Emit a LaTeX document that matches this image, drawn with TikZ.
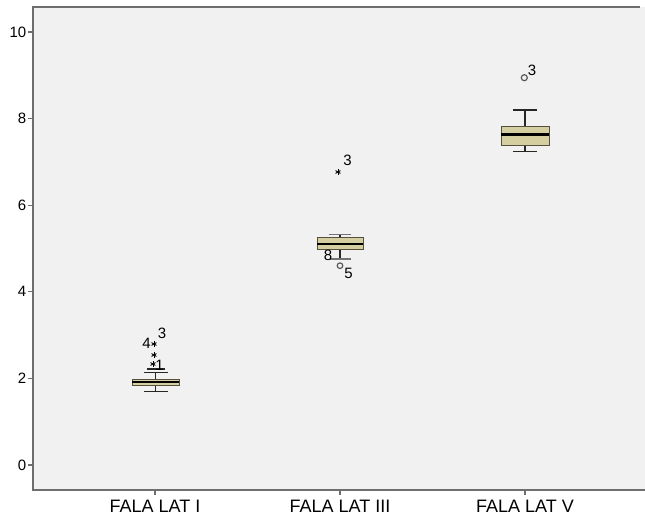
\documentclass[tikz,border=0pt]{standalone}
\usepackage{fontspec}
\setmainfont{Liberation Sans}
\usetikzlibrary{calc}
\definecolor{bgc}{RGB}{240,241,240}
\definecolor{axc}{RGB}{110,110,110}
\definecolor{boxfill}{RGB}{213,206,160}
\definecolor{boxline}{RGB}{85,80,62}
\begin{document}
\begin{tikzpicture}[x=1pt,y=-1pt,
  axis/.style={draw=axc,line width=1.6pt},
  tickl/.style={font=\fontsize{15}{16}\selectfont,inner sep=0pt,anchor=east},
  catl/.style={font=\fontsize{18}{19}\selectfont,inner sep=0pt,anchor=north},
  olab/.style={font=\fontsize{15}{16}\selectfont,inner sep=0pt},
  boxs/.style={fill=boxfill,draw=boxline,line width=1pt},
  whisk/.style={draw=black!85,line width=1.2pt},
  med/.style={draw=black,line width=2.2pt},
  outc/.style={draw=black!65,line width=1.2pt},
  astk/.style={draw=black,line width=0.9pt}]
\useasboundingbox (0,0) rectangle (645,517);
\fill[bgc] (33,7) rectangle (645,490);
\draw[axis] (640,7) -- (33,7) -- (33,490) -- (645,490);
% y ticks
\foreach \v/\y in {0/465,2/378.4,4/291.8,6/205.2,8/118.6,10/32}{
  \draw[axis,line width=1.2pt] (28,\y) -- (33,\y);
  \node[tickl] (yt\v) at (26.5,\y) {\v};
}
% x ticks
\foreach \x/\n/\t in {155/a/FALA LAT I,340/b/FALA LAT III,525/c/FALA LAT V}{
  \draw[axis,line width=1.2pt] (\x,490) -- (\x,495);
  \node[catl] (cat\n) at (\x,500) {\t};
}
% ---- box 1
\draw[whisk] (155.5,379) -- (155.5,372.7);
\draw[whisk] (144,372.7) -- (168,372.7);
\draw[whisk] (147,369) -- (165,369);
\draw[whisk] (155.5,385.7) -- (155.5,391.7);
\draw[whisk] (144,391.7) -- (168,391.7);
\draw[boxs] (132,379) rectangle (179,385.7);
\draw[med,line width=1.6pt] (132,382) -- (179,382);
% ---- box 2
\draw[whisk] (340,237.7) -- (340,234.3);
\draw[whisk,draw=black!55] (329,234.3) -- (351,234.3);
\draw[whisk] (340,249.3) -- (340,259);
\draw[whisk,draw=black!55] (330,259) -- (351,259);
\draw[boxs] (317,237.7) rectangle (363,249.3);
\draw[med,line width=1.8pt] (317,243.7) -- (363,243.7);
% ---- box 3
\draw[whisk] (525,126) -- (525,110);
\draw[whisk] (513,110) -- (537,110);
\draw[whisk] (525,145.7) -- (525,151.7);
\draw[whisk] (513,151.7) -- (537,151.7);
\draw[boxs] (501,126) rectangle (549,145.7);
\draw[med,line width=2.6pt] (501,134.3) -- (549,134.3);
% ---- outliers
\foreach \px/\py in {154/344,154/355,153/364,338/172}{
  \foreach \a in {90,30,150}{
    \draw[astk] ($(\px,\py)+(\a:2.8)$) -- ($(\px,\py)+(\a+180:2.8)$);
  }
}
\draw[outc] (340,265.7) circle (2.8);
\draw[outc] (524.3,77.7) circle (3);
\node[olab] (o13) at (162,333) {3};
\node[olab] (o14) at (146.5,343.5) {4};
\node[olab] (o11) at (159.5,365) {1};
\node[olab] (o23) at (347.5,160) {3};
\node[olab] (o28) at (328,255) {8};
\node[olab] (o25) at (348.5,273.5) {5};
\node[olab] (o33) at (532,70) {3};
\end{tikzpicture}
\end{document}
